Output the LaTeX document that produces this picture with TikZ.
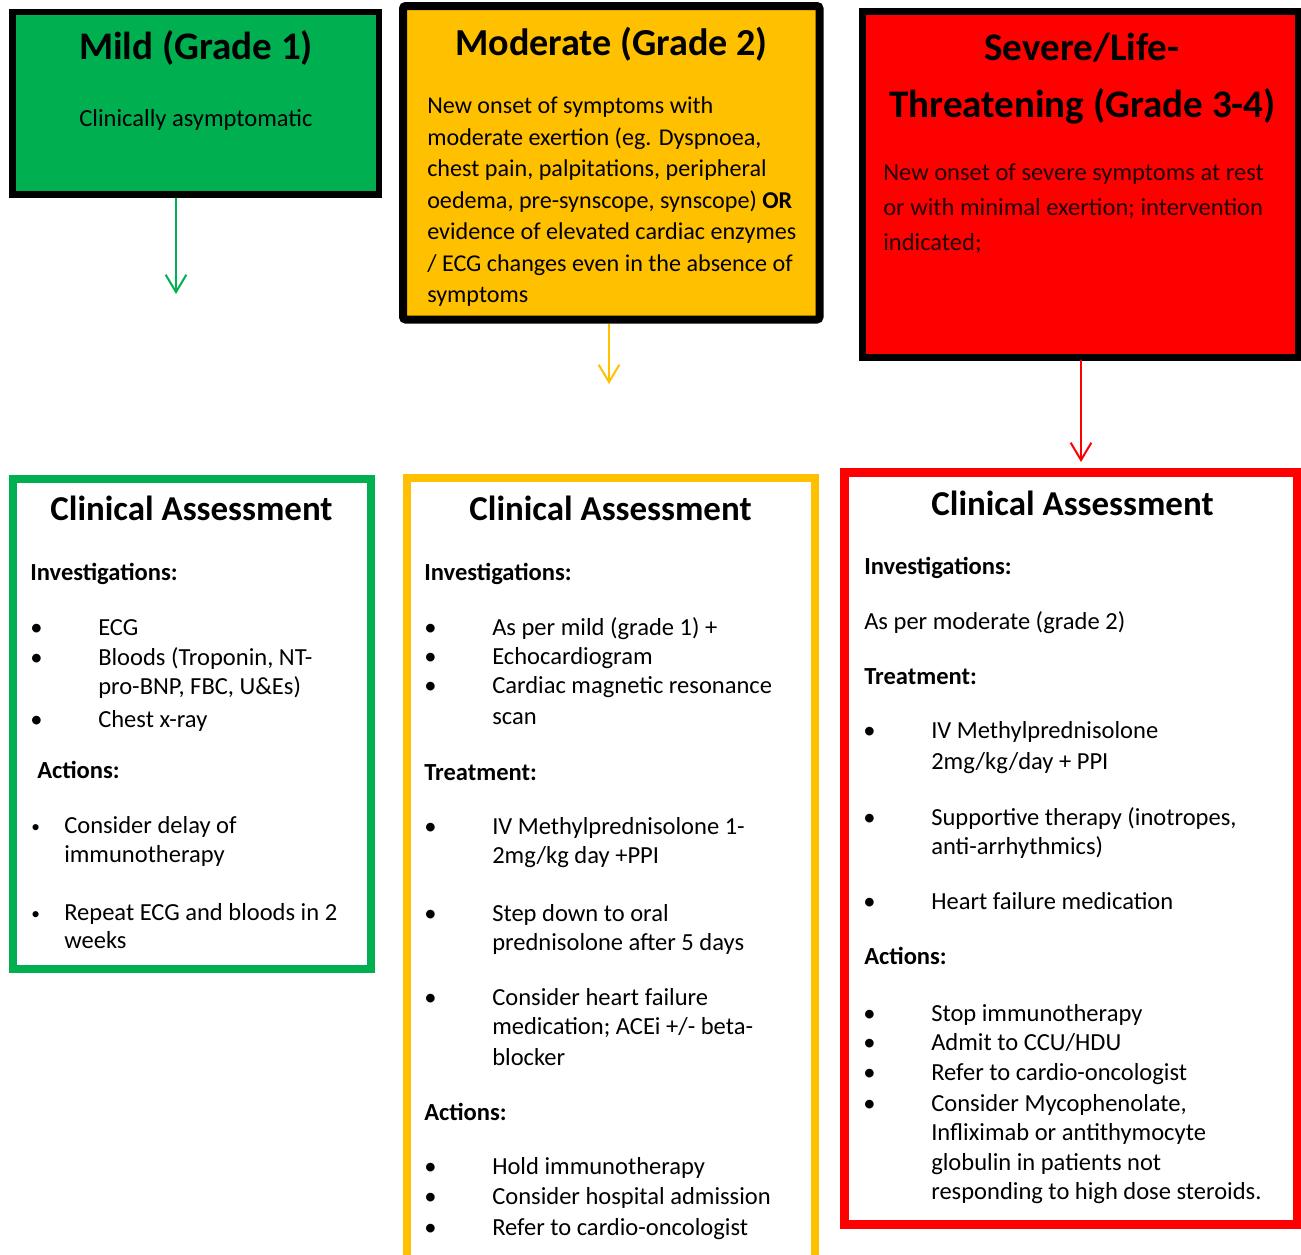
\documentclass[tikz,border=0pt]{standalone}
\usepackage{fontspec}
\setmainfont{Carlito}
\usetikzlibrary{fit,arrows.meta}
\definecolor{cgreen}{HTML}{00B050}
\definecolor{corange}{HTML}{FFC000}
\definecolor{cred}{HTML}{FF0000}
\definecolor{sevtext}{RGB}{35,0,0}
\tikzset{
  px/.style={x=0.75pt,y=-0.75pt},
  gradebox/.style={draw=black,inner sep=0pt,outer sep=0pt},
  assessbox/.style={draw,fill=white,inner sep=0pt,outer sep=0pt},
  bigtitle/.style={anchor=base,inner sep=0pt,font=\bfseries\fontsize{29.3}{35}\selectfont},
  catitle/.style={anchor=base,inner sep=0pt,font=\bfseries\fontsize{26.2}{31}\selectfont},
  body/.style={anchor=base west,inner sep=0pt,font=\fontsize{18.4}{22}\selectfont},
  modbody/.style={anchor=base west,inner sep=0pt,font=\fontsize{18.1}{22}\selectfont},
  bodyc/.style={anchor=base,inner sep=0pt,font=\fontsize{18.4}{22}\selectfont},
  head/.style={anchor=base west,inner sep=0pt,font=\bfseries\fontsize{18.4}{22}\selectfont},
  bul/.style={anchor=base west,inner sep=0pt,font=\fontsize{18.4}{22}\selectfont},
  smallbul/.style={anchor=base west,inner sep=0pt,font=\fontsize{13}{16}\selectfont},
  arr/.style={line width=1.5pt,-{Straight Barb[length=13pt,width=15.5pt]}}
}
\newcommand{\bitem}[5]{%
  \node[bul] (#1b) at (#2,#4) {•};
  \node[body] (#1) at (#3,#4) {#5};}
\begin{document}
\begin{tikzpicture}[px]
\useasboundingbox (0,0) rectangle (1301,1254);
\clip (0,0) rectangle (1301,1254);

% ---------- top grade boxes ----------
\node[gradebox,fill=cgreen,line width=4.9pt,fit={(12.5,12) (379,194.5)}] (mild) {};
\node[gradebox,fill=corange,line width=6pt,rounded corners=2pt,fit={(403,6) (819.5,319.5)}] (moderate) {};
\node[gradebox,fill=cred,line width=5.25pt,fit={(862.5,11.5) (1298,357)}] (severe) {};

\node[bigtitle] (mildt) at (196,59) {Mild (Grade 1)};
\node[bodyc] (mildb) at (196,126) {Clinically asymptomatic};

\node[bigtitle,font=\bfseries\fontsize{28.6}{35}\selectfont] (modt) at (611.5,55) {Moderate (Grade 2)};
\node[modbody] (mod1) at (427,113) {New onset of symptoms with};
\node[modbody] (mod2) at (427,145) {moderate exertion (eg. Dyspnoea,};
\node[modbody] (mod3) at (427,176) {chest pain, palpitations, peripheral};
\node[modbody] (mod4) at (427,208) {oedema, pre-synscope, synscope) \textbf{OR}};
\node[modbody] (mod5) at (427,239) {evidence of elevated cardiac enzymes};
\node[modbody] (mod6) at (427,271) {/ ECG changes even in the absence of};
\node[modbody] (mod7) at (427,302) {symptoms};

\node[bigtitle] (sevt1) at (1082,60) {Severe/Life-};
\node[bigtitle] (sevt2) at (1082.5,117) {Threatening (Grade 3-4)};
\node[body,text=sevtext] (sev1) at (883,180) {New onset of severe symptoms at rest};
\node[body,text=sevtext] (sev2) at (883,215) {or with minimal exertion; intervention};
\node[body,text=sevtext] (sev3) at (883,250) {indicated;};

% ---------- arrows ----------
\coordinate (gend) at (176,294);
\coordinate (oend) at (609,384);
\coordinate (rend) at (1081,462);
\draw[arr,cgreen,shorten <=2.5pt] (mild.south -| gend) -- (gend);
\draw[arr,corange,shorten <=3pt] (moderate.south -| oend) -- (oend);
\draw[arr,cred,shorten <=2.6pt] (severe.south -| rend) -- (rend);

% ---------- assessment boxes ----------
\node[assessbox,draw=cgreen,line width=6pt,fit={(12.5,479) (371,969)}] (ca1) {};
\node[assessbox,draw=corange,line width=6pt,fit={(407,478) (815,1265)}] (ca2) {};
\node[assessbox,draw=cred,line width=6.4pt,fit={(844.5,472.5) (1297.5,1224.5)}] (ca3) {};

% box 1
\node[catitle] (ca1t) at (191.5,520) {Clinical Assessment};
\node[head] (ca1h1) at (30,580) {Investigations:};
\bitem{a1}{30}{98}{635}{ECG}
\bitem{a2}{30}{98}{665}{Bloods (Troponin, NT-}
\node[body] (a2l2) at (98,694) {pro-BNP, FBC, U\&Es)};
\bitem{a3}{30}{98}{727}{Chest x-ray}
\node[head] (ca1h2) at (37,778) {Actions:};
\node[smallbul] (a4b) at (31,832) {•};
\node[body] (a4) at (64,833) {Consider delay of};
\node[body] (a4l2) at (64,862) {immunotherapy};
\node[smallbul] (a5b) at (31,919) {•};
\node[body] (a5) at (64,920) {Repeat ECG and bloods in 2};
\node[body] (a5l2) at (64,948) {weeks};

% box 2
\node[catitle] (ca2t) at (610.5,520) {Clinical Assessment};
\node[head] (ca2h1) at (424,580) {Investigations:};
\bitem{b1}{424}{492}{635}{As per mild (grade 1) +}
\bitem{b2}{424}{492}{664}{Echocardiogram}
\bitem{b3}{424}{492}{693.5}{Cardiac magnetic resonance}
\node[body] (b3l2) at (492,724) {scan};
\node[head] (ca2h2) at (424,780) {Treatment:};
\bitem{b4}{424}{492}{834}{IV Methylprednisolone 1-}
\node[body] (b4l2) at (492,863) {2mg/kg day +PPI};
\bitem{b5}{424}{492}{921}{Step down to oral}
\node[body] (b5l2) at (492,950) {prednisolone after 5 days};
\bitem{b6}{424}{492}{1005}{Consider heart failure}
\node[body] (b6l2) at (492,1034) {medication; ACEi +/- beta-};
\node[body] (b6l3) at (492,1065) {blocker};
\node[head] (ca2h3) at (424,1120) {Actions:};
\bitem{b7}{424}{492}{1174}{Hold immunotherapy}
\bitem{b8}{424}{492}{1204}{Consider hospital admission}
\bitem{b9}{424}{492}{1235}{Refer to cardio-oncologist}

% box 3
\node[catitle] (ca3t) at (1072.5,515) {Clinical Assessment};
\node[head] (ca3h1) at (864,574) {Investigations:};
\node[body] (c0) at (864,629) {As per moderate (grade 2)};
\node[head] (ca3h2) at (864,684) {Treatment:};
\bitem{c1}{863}{931}{738}{IV Methylprednisolone}
\node[body] (c1l2) at (931,769) {2mg/kg/day + PPI};
\bitem{c2}{863}{931}{825}{Supportive therapy (inotropes,}
\node[body] (c2l2) at (931,854) {anti-arrhythmics)};
\bitem{c3}{863}{931}{909}{Heart failure medication}
\node[head] (ca3h3) at (864,964) {Actions:};
\bitem{c4}{863}{931}{1021}{Stop immunotherapy}
\bitem{c5}{863}{931}{1050}{Admit to CCU/HDU}
\bitem{c6}{863}{931}{1080}{Refer to cardio-oncologist}
\bitem{c7}{863}{931}{1111}{Consider Mycophenolate,}
\node[body] (c7l2) at (931,1140) {Infliximab or antithymocyte};
\node[body] (c7l3) at (931,1170) {globulin in patients not};
\node[body] (c7l4) at (931,1199) {responding to high dose steroids.};
\end{tikzpicture}
\end{document}
